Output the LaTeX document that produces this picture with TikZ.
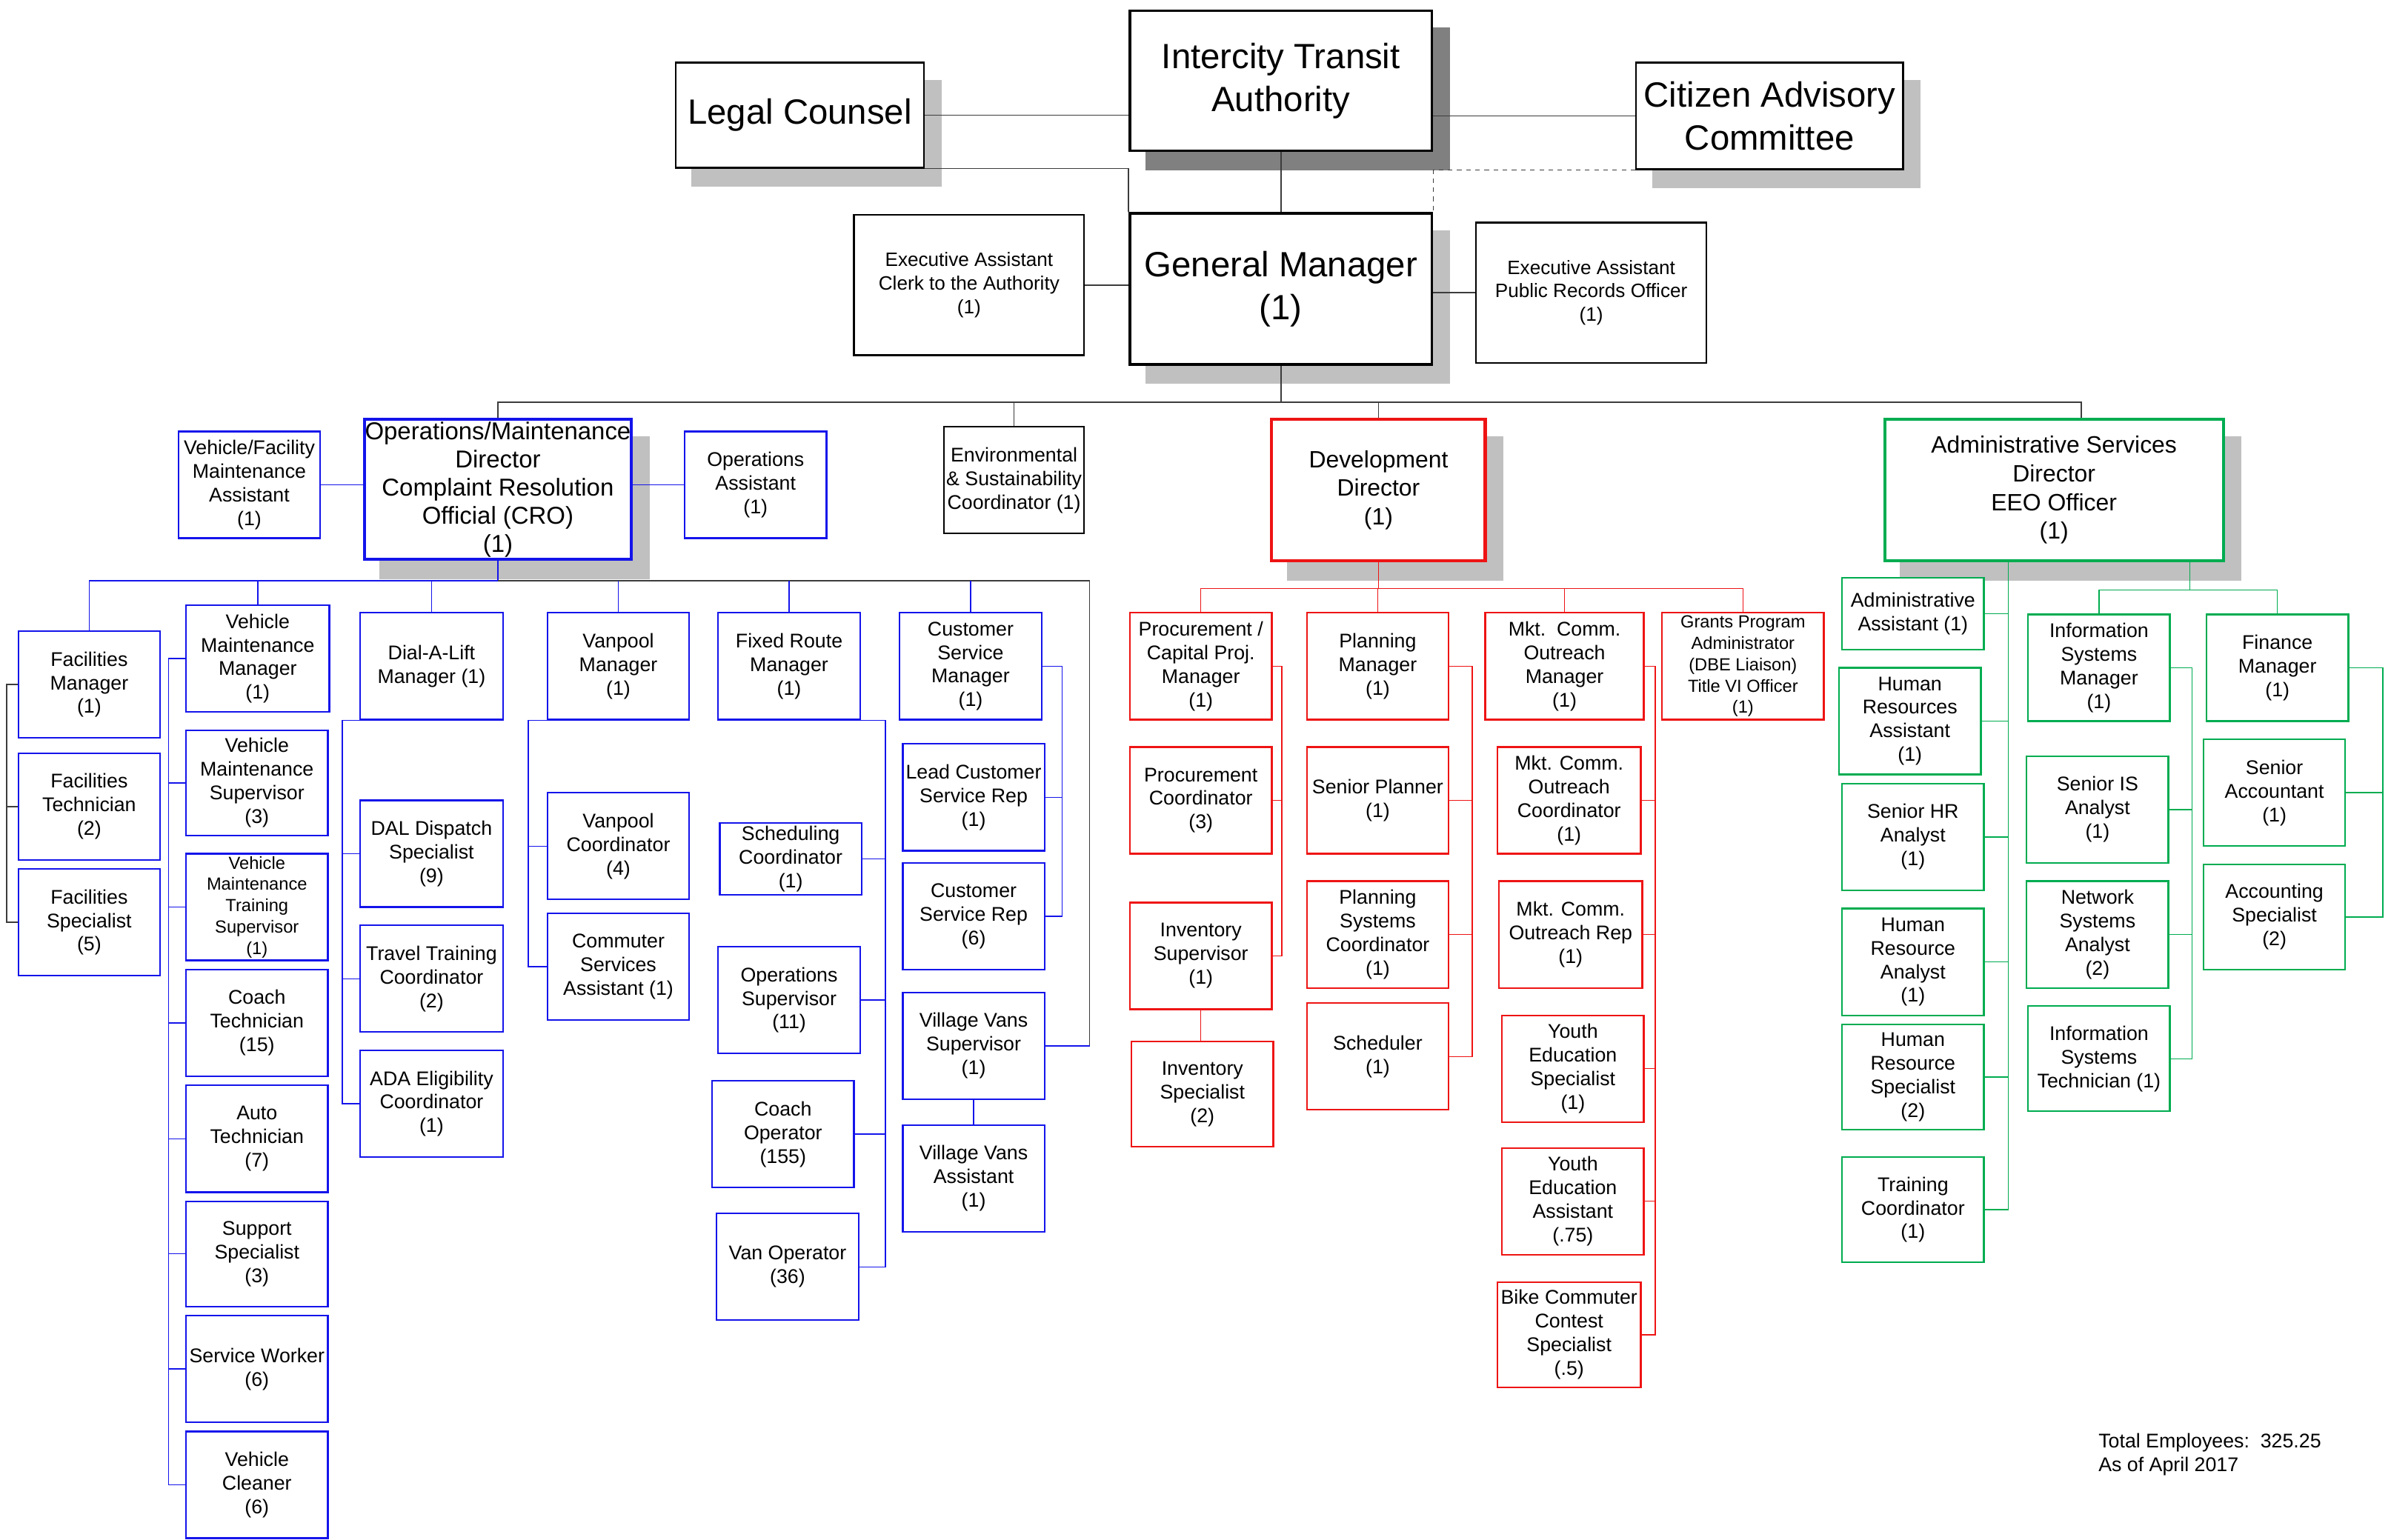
\documentclass[tikz,border=0pt]{standalone}
\usepackage{fontspec}
\setmainfont{Liberation Sans}
\usetikzlibrary{backgrounds}
\definecolor{ob}{RGB}{20,20,235}
\definecolor{rr}{RGB}{238,20,20}
\definecolor{gg}{RGB}{0,172,80}
\definecolor{sh}{RGB}{192,192,192}
\definecolor{shd}{RGB}{128,128,128}
\definecolor{ln}{RGB}{60,60,60}
\newcommand\bx[7]{\node[#2, minimum width={#5-#3}, minimum height={#6-#4}] (#1) at ({(#3+#5)/2},{(#4+#6)/2}) {#7};}
\newcommand\shad[2]{\fill[#1] ([shift={(11,12)}]#2.south west) rectangle ([shift={(11,12)}]#2.north east);}
\tikzset{
  fbig/.style={font=\fontsize{23}{28}\selectfont},
  fdir/.style={font=\fontsize{15.5}{18.8}\selectfont},
  fops/.style={font=\fontsize{16}{18.5}\selectfont},
  fmid/.style={font=\fontsize{12.7}{15.5}\selectfont},
  fsml/.style={font=\fontsize{11.5}{14}\selectfont},
  box/.style={draw, fill=white, align=center, inner sep=0pt, line width=1.1pt, font=\fontsize{13}{15.5}\selectfont},
  kb/.style={box, draw=black},
  bb/.style={box, draw=ob},
  rb/.style={box, draw=rr},
  gb/.style={box, draw=gg},
  kl/.style={draw=ln, line width=0.8pt},
  bl/.style={draw=ob, line width=0.7pt},
  rl/.style={draw=rr, line width=0.7pt},
  gl/.style={draw=gg, line width=0.7pt},
}
\begin{document}
\begin{tikzpicture}[x=1pt, y=-1pt]
\useasboundingbox (0,0) rectangle (1568,1010);
% ---------- top ----------
\bx{ita}{kb, line width=1.6pt, fbig}{741}{7}{939}{99}{Intercity Transit\\Authority}
\bx{lc}{kb, fbig}{443}{41}{606}{110}{Legal Counsel}
\bx{cac}{kb, fbig}{1073}{41}{1248}{111}{Citizen Advisory\\Committee}
\bx{gm}{kb, line width=1.8pt, fbig}{741}{140}{939}{239}{General Manager\\(1)}
\bx{eac}{kb, fmid}{560}{141}{711}{233}{Executive Assistant\\Clerk to the Authority\\(1)}
\bx{eap}{kb, fmid}{968}{146}{1119}{238}{Executive Assistant\\Public Records Officer\\(1)}
% ---------- directors ----------
\bx{ops}{bb, line width=2pt, fops}{239}{275}{414}{367}{Operations/Maintenance\\Director\\Complaint Resolution\\Official (CRO)\\(1)}
\bx{vfma}{bb}{117}{283}{210}{353}{Vehicle/Facility\\Maintenance\\Assistant\\(1)}
\bx{oa}{bb}{449}{283}{542}{353}{Operations\\Assistant\\(1)}
\bx{env}{kb}{619}{280}{711}{350}{Environmental\\\& Sustainability\\Coordinator (1)}
\bx{dev}{rb, line width=2pt, fdir}{834}{275}{974}{368}{Development\\Director\\(1)}
\bx{adm}{gb, line width=2pt, fdir}{1236}{275}{1458}{368}{Administrative Services\\Director\\EEO Officer\\(1)}
% ---------- blue ----------
\bx{fm}{bb}{12}{414}{105}{484}{Facilities\\Manager\\(1)}
\bx{ft}{bb}{12}{494}{105}{564}{Facilities\\Technician\\(2)}
\bx{fs}{bb}{12}{570}{105}{640}{Facilities\\Specialist\\(5)}
\bx{vmm}{bb}{122}{397}{216}{467}{Vehicle\\Maintenance\\Manager\\(1)}
\bx{vms}{bb}{122}{479}{215}{548}{Vehicle\\Maintenance\\Supervisor\\(3)}
\bx{vmts}{bb, fsml}{122}{560}{215}{630}{Vehicle\\Maintenance\\Training\\Supervisor\\(1)}
\bx{ct}{bb}{122}{636}{215}{706}{Coach\\Technician\\(15)}
\bx{at}{bb}{122}{712}{215}{782}{Auto\\Technician\\(7)}
\bx{ss}{bb}{122}{788}{215}{857}{Support\\Specialist\\(3)}
\bx{sw}{bb}{122}{863}{215}{933}{Service Worker\\(6)}
\bx{vcl}{bb}{122}{939}{215}{1009}{Vehicle\\Cleaner\\(6)}
\bx{dal}{bb}{236}{402}{330}{472}{Dial-A-Lift\\Manager (1)}
\bx{dds}{bb}{236}{525}{330}{595}{DAL Dispatch\\Specialist\\(9)}
\bx{ttc}{bb}{236}{607}{330}{677}{Travel Training\\Coordinator\\(2)}
\bx{ada}{bb}{236}{689}{330}{759}{ADA Eligibility\\Coordinator\\(1)}
\bx{vpm}{bb}{359}{402}{452}{472}{Vanpool\\Manager\\(1)}
\bx{vpc}{bb}{359}{520}{452}{590}{Vanpool\\Coordinator\\(4)}
\bx{csa}{bb}{359}{599}{452}{669}{Commuter\\Services\\Assistant (1)}
\bx{frm}{bb}{471}{402}{564}{472}{Fixed Route\\Manager\\(1)}
\bx{sc}{bb}{472}{540}{565}{587}{Scheduling\\Coordinator\\(1)}
\bx{os}{bb}{471}{621}{564}{691}{Operations\\Supervisor\\(11)}
\bx{co}{bb}{467}{709}{560}{779}{Coach\\Operator\\(155)}
\bx{vo}{bb}{470}{796}{563}{866}{Van Operator\\(36)}
\bx{csm}{bb}{590}{402}{683}{472}{Customer\\Service\\Manager\\(1)}
\bx{lcsr}{bb}{592}{488}{685}{558}{Lead Customer\\Service Rep\\(1)}
\bx{csr}{bb}{592}{566}{685}{636}{Customer\\Service Rep\\(6)}
\bx{vvs}{bb}{592}{651}{685}{721}{Village Vans\\Supervisor\\(1)}
\bx{vva}{bb}{592}{738}{685}{808}{Village Vans\\Assistant\\(1)}
% ---------- red ----------
\bx{pcm}{rb}{741}{402}{834}{472}{Procurement /\\Capital Proj.\\Manager\\(1)}
\bx{pc}{rb}{741}{490}{834}{560}{Procurement\\Coordinator\\(3)}
\bx{isu}{rb}{741}{592}{834}{662}{Inventory\\Supervisor\\(1)}
\bx{isp}{rb}{742}{683}{835}{752}{Inventory\\Specialist\\(2)}
\bx{pm}{rb}{857}{402}{950}{472}{Planning\\Manager\\(1)}
\bx{sp}{rb}{857}{490}{950}{560}{Senior Planner\\(1)}
\bx{psc}{rb}{857}{578}{950}{648}{Planning\\Systems\\Coordinator\\(1)}
\bx{sch}{rb}{857}{658}{950}{728}{Scheduler\\(1)}
\bx{mcom}{rb}{974}{402}{1078}{472}{Mkt.\ \ Comm.\\Outreach\\Manager\\(1)}
\bx{mcoc}{rb}{982}{490}{1076}{560}{Mkt. Comm.\\Outreach\\Coordinator\\(1)}
\bx{mcor}{rb}{983}{578}{1077}{648}{Mkt. Comm.\\Outreach Rep\\(1)}
\bx{yes}{rb}{985}{666}{1078}{736}{Youth\\Education\\Specialist\\(1)}
\bx{yea}{rb}{985}{753}{1078}{823}{Youth\\Education\\Assistant\\(.75)}
\bx{bcc}{rb}{982}{841}{1076}{910}{Bike Commuter\\Contest\\Specialist\\(.5)}
\bx{gpa}{rb, fsml}{1090}{402}{1196}{472}{Grants Program\\Administrator\\(DBE Liaison)\\Title VI Officer\\(1)}
% ---------- green ----------
\bx{aa}{gb}{1208}{379}{1301}{426}{Administrative\\Assistant (1)}
\bx{hra}{gb}{1206}{438}{1299}{508}{Human\\Resources\\Assistant\\(1)}
\bx{shr}{gb}{1208}{514}{1301}{584}{Senior HR\\Analyst\\(1)}
\bx{hran}{gb}{1208}{596}{1301}{666}{Human\\Resource\\Analyst\\(1)}
\bx{hrs}{gb}{1208}{672}{1301}{741}{Human\\Resource\\Specialist\\(2)}
\bx{tc}{gb}{1208}{759}{1301}{828}{Training\\Coordinator\\(1)}
\bx{ism}{gb}{1330}{403}{1423}{473}{Information\\Systems\\Manager\\(1)}
\bx{sia}{gb}{1329}{496}{1422}{566}{Senior IS\\Analyst\\(1)}
\bx{nsa}{gb}{1329}{578}{1422}{648}{Network\\Systems\\Analyst\\(2)}
\bx{ist}{gb}{1330}{660}{1423}{729}{Information\\Systems\\Technician (1)}
\bx{fin}{gb}{1447}{403}{1540}{473}{Finance\\Manager\\(1)}
\bx{sa}{gb}{1445}{485}{1538}{555}{Senior\\Accountant\\(1)}
\bx{as}{gb}{1445}{567}{1538}{636}{Accounting\\Specialist\\(2)}
% ---------- note ----------
\node[anchor=north west, align=left, inner sep=0pt, font=\fontsize{13}{15.5}\selectfont] (note) at (1376,940) {Total Employees:\ \ 325.25\\As of April 2017};
% ---------- background: shadows and connectors ----------
\begin{scope}[on background layer]
\fill[white] (0,0) rectangle (1568,1010);
\shad{shd}{ita}
\shad{sh}{lc}
\shad{sh}{cac}
\shad{sh}{gm}
\shad{sh}{ops}
\shad{sh}{dev}
\shad{sh}{adm}
% top
\draw[kl] (lc.east) -- (lc.east -| ita.west);
\draw[kl] (cac.west) -- (cac.west -| ita.east);
\draw[kl] (ita.south) -- (gm.north);
\draw[kl] (lc.south east) -| (gm.north west);
\draw[kl, dashed] (cac.south west) -| (gm.north east);
\draw[kl] (eac.east) -- (eac.east -| gm.west);
\draw[kl] (eap.west) -- (eap.west -| gm.east);
\coordinate (bus) at ([yshift=-24pt]gm.south);
\coordinate (admd) at ([xshift=18pt]adm.north);
\draw[kl] (gm.south) -- (bus);
\draw[kl] (ops.north) |- (bus -| admd) -- (admd);
\draw[kl] (env.north) -- (env.north |- bus);
\draw[kl] (dev.north) -- (dev.north |- bus);
% operations
\draw[bl] (vfma.east) -- (vfma.east -| ops.west);
\draw[bl] (oa.west) -- (oa.west -| ops.east);
\coordinate (obus) at ([yshift=-13pt]ops.south);
\coordinate (oright) at ([xshift=29pt]vvs.east);
\draw[bl] (ops.south) -- (obus);
\draw[bl] (fm.north) |- (obus);
\draw[kl] (obus) -| (oright);
\draw[bl] (vvs.east) -- (oright);
\foreach \n in {vmm,dal,vpm,frm,csm} \draw[bl] (\n.north) -- (\n.north |- obus);
\draw[kl] (fm.west) -- ++(-7,0) coordinate (fkt) |- (fs.west);
\draw[kl] (ft.west) -- (ft.west -| fkt);
\draw[bl] (vmm.west) -- ++(-11,0) coordinate (vt) |- (vcl.west);
\foreach \n in {vms,vmts,ct,at,ss,sw} \draw[bl] (\n.west) -- (\n.west -| vt);
\draw[bl] (dal.south west) -- ++(-11,0) coordinate (dt) |- (ada.west);
\foreach \n in {dds,ttc} \draw[bl] (\n.west) -- (\n.west -| dt);
\draw[bl] (vpm.south west) -- ++(-12,0) coordinate (pt) |- (csa.west);
\draw[bl] (vpc.west) -- (vpc.west -| pt);
\draw[bl] (frm.south east) -- ++(16,0) coordinate (frt) |- (vo.east);
\foreach \n in {sc,os,co} \draw[bl] (\n.east) -- (\n.east -| frt);
\draw[bl] (csm.east) -- ++(13,0) coordinate (cst) |- (csr.east);
\draw[bl] (lcsr.east) -- (lcsr.east -| cst);
\draw[bl] (vvs.south) -- (vvs.south |- vva.north);
% development
\coordinate (rbus) at ([yshift=-17pt]dev.south);
\draw[rl] (dev.south) -- (rbus);
\draw[rl] (pcm.north) |- (rbus -| gpa.north) -- (gpa.north);
\foreach \n in {pm,mcom} \draw[rl] (\n.north) -- (\n.north |- rbus);
\draw[rl] (pcm.east) -- ++(6,0) coordinate (rt1) |- (isu.east);
\draw[rl] (pc.east) -- (pc.east -| rt1);
\draw[rl] (isu.south) -- (isu.south |- isp.north);
\draw[rl] (pm.east) -- ++(15,0) coordinate (rt2) |- (sch.east);
\foreach \n in {sp,psc} \draw[rl] (\n.east) -- (\n.east -| rt2);
\draw[rl] (mcom.east) -- ++(7,0) coordinate (rt3) |- (bcc.east);
\foreach \n in {mcoc,mcor,yes,yea} \draw[rl] (\n.east) -- (\n.east -| rt3);
% administrative
\coordinate (gt) at ([xshift=-30pt]adm.south);
\draw[gl] (gt) |- (tc.east);
\foreach \n in {aa,hra,shr,hran,hrs} \draw[gl] (\n.east) -- (\n.east -| gt);
\coordinate (gt2) at ([xshift=89pt]adm.south);
\coordinate (gbus) at ([yshift=-18pt]gt2);
\draw[gl] (gt2) -- (gbus);
\draw[gl] (ism.north) |- (gbus -| fin.north) -- (fin.north);
\draw[gl] (ism.east) -- ++(14,0) coordinate (gt3) |- (ist.east);
\foreach \n in {sia,nsa} \draw[gl] (\n.east) -- (\n.east -| gt3);
\draw[gl] (fin.east) -- ++(22,0) coordinate (gt4) |- (as.east);
\draw[gl] (sa.east) -- (sa.east -| gt4);
\end{scope}
\end{tikzpicture}
\end{document}
